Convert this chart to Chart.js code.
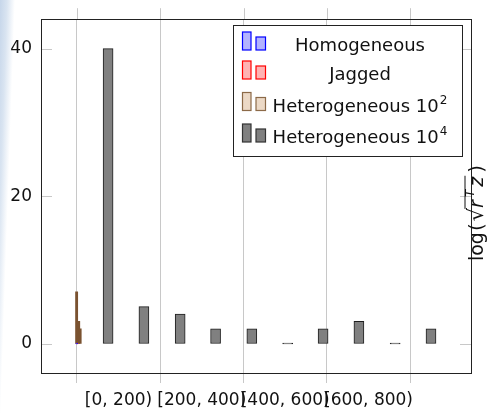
<!DOCTYPE html>
<html>
<head>
<meta charset="utf-8">
<script src="https://cdn.jsdelivr.net/npm/chart.js@4"></script>
<style>
    html, body { margin: 0; padding: 0; }
    body {
        width: 490px; height: 413px; overflow: hidden;
        background: linear-gradient(92deg, #c6d6ea 0px, #d9e4f1 7px, #ffffff 15px);
    }
    canvas { display: block; }
</style>
</head>
<body>
<canvas id="chart" width="490" height="413"></canvas>
<script>
(function () {
    "use strict";

    // Data
    const homX = [0];
    const homY = [0];
    const jagX = [1];
    const jagY = [0];
    const het2X = [-0.5, 4.5, 8];
    const het2Y = [7, 3, 2];
    const het4X = [75, 161, 248, 333, 420, 506, 591, 677, 764, 850];
    const het4Y = [40, 5, 4, 2, 2, 0, 2, 3, 0, 2];

    const seriesNames = ["Homogeneous", "Jagged", "Heterogeneous 10", "Heterogeneous 10"];
    const seriesSup = ["", "", "2", "4"];
    // legend swatches use the light pgfplots fills
    const legendFill = ["#b3b3ff", "#ffb3b3", "#ecd9c6", "#808080"];
    const legendLine = ["#0000ff", "#ff0000", "#8c6a48", "#333333"];

    const gridValues = [0, 200, 400, 600, 800];
    const xLabelValues = [100, 300, 500, 700];
    const xLabels = ["[0, 200)", "[200, 400)", "[400, 600)", "[600, 800)"];
    const yTickValues = [0, 20, 40];

    const gridColor = "#c8c8c8";
    const font = "DejaVu Sans";

    const pts = (xs, ys) => xs.map((x, i) => ({ x: x, y: ys[i] }));

    const frame = {
        id: "frame",
        afterDraw(chart) {
            const { ctx, chartArea: a, scales } = chart;
            const x = scales.x, y = scales.y;
            ctx.save();
            ctx.lineWidth = 1;

            // outward ticks on top, inward ticks on both y sides
            ctx.strokeStyle = gridColor;
            ctx.beginPath();
            gridValues.forEach((v) => {
                const px = Math.round(x.getPixelForValue(v)) + 0.5;
                ctx.moveTo(px, a.top - 11);
                ctx.lineTo(px, a.top);
            });
            yTickValues.forEach((v) => {
                const py = Math.round(y.getPixelForValue(v)) + 0.5;
                ctx.moveTo(a.left, py);
                ctx.lineTo(a.left + 11, py);
                ctx.moveTo(a.right - 11, py);
                ctx.lineTo(a.right, py);
            });
            ctx.stroke();

            // axis box
            ctx.strokeStyle = "#222";
            ctx.strokeRect(Math.round(a.left) + 0.5, Math.round(a.top) + 0.5,
                Math.round(a.right - a.left), Math.round(a.bottom - a.top));

            // legend
            const lx = 233.5, ly = 25.5, lw = 229, lh = 131;
            ctx.fillStyle = "#fff";
            ctx.fillRect(lx, ly, lw, lh);
            ctx.strokeStyle = "#222";
            ctx.strokeRect(lx, ly, lw, lh);
            const baselines = [51, 80, 111.5, 143];
            seriesNames.forEach((name, i) => {
                const b = baselines[i] - 1;
                ctx.fillStyle = legendFill[i];
                ctx.strokeStyle = legendLine[i];
                ctx.lineWidth = 1.2;
                ctx.fillRect(242.5, b - 18, 8.5, 18);
                ctx.strokeRect(242.5, b - 18, 8.5, 18);
                ctx.fillRect(256, b - 13, 9.5, 13);
                ctx.strokeRect(256, b - 13, 9.5, 13);

                ctx.fillStyle = "#111";
                ctx.textBaseline = "alphabetic";
                ctx.textAlign = "left";
                ctx.font = "18px '" + font + "'";
                const w1 = ctx.measureText(name).width;
                ctx.font = "12px '" + font + "'";
                const w2 = seriesSup[i] ? ctx.measureText(seriesSup[i]).width + 1 : 0;
                const sx = 360 - (w1 + w2) / 2;
                ctx.font = "18px '" + font + "'";
                ctx.fillText(name, sx, baselines[i]);
                if (seriesSup[i]) {
                    ctx.font = "12px '" + font + "'";
                    ctx.fillText(seriesSup[i], sx + w1 + 1, baselines[i] - 8);
                }
            });

            // y-axis title on the right, reading upwards
            ctx.translate(483, 213);
            ctx.rotate(-Math.PI / 2);
            ctx.fillStyle = "#111";
            ctx.strokeStyle = "#111";
            ctx.textBaseline = "alphabetic";
            const parts = [
                ["log", "19px '" + font + "'", 0, 1],
                ["(", "20px '" + font + "'", 0, 2],
                ["\u221A", "21px '" + font + "'", 0, 0],
                ["r", "italic 19px '" + font + "'", 0, 3],
                ["T", "italic 12px '" + font + "'", -9, 3],
                ["z", "italic 19px '" + font + "'", 0, 4],
                [")", "20px '" + font + "'", 0, 0],
            ];
            let total = 0;
            const widths = parts.map((p) => {
                ctx.font = p[1];
                const w = ctx.measureText(p[0]).width + p[3];
                total += w;
                return w;
            });
            let cx = -total / 2;
            let olStart = 0, olEnd = 0;
            parts.forEach((p, i) => {
                ctx.font = p[1];
                if (i === 3) olStart = cx - 1;
                ctx.fillText(p[0], cx, p[2]);
                cx += widths[i];
                if (i === 5) olEnd = cx - 3;
            });
            ctx.lineWidth = 1;
            ctx.beginPath();
            ctx.moveTo(olStart, -18);
            ctx.lineTo(olEnd, -18);
            ctx.stroke();

            ctx.restore();
        },
    };

    new Chart(document.getElementById("chart"), {
        type: "bar",
        data: {
            datasets: [
                {
                    label: "Homogeneous",
                    data: pts(homX, homY),
                    backgroundColor: "#b3b3ff",
                    borderColor: "#0000ff",
                    borderWidth: 1,
                    barThickness: 2,
                    minBarLength: 1,
                },
                {
                    label: "Jagged",
                    data: pts(jagX, jagY),
                    backgroundColor: "#ffb3b3",
                    borderColor: "#ff0000",
                    borderWidth: 1,
                    barThickness: 2,
                    minBarLength: 1,
                },
                {
                    label: "Heterogeneous 10^2",
                    data: pts(het2X, het2Y),
                    backgroundColor: "#7a5230",
                    borderColor: "#7a5230",
                    borderWidth: 0,
                    barThickness: 2.2,
                },
                {
                    label: "Heterogeneous 10^4",
                    data: pts(het4X, het4Y),
                    backgroundColor: "#808080",
                    borderColor: "#1e1e1e",
                    borderWidth: 1,
                    barThickness: 10,
                    minBarLength: 1,
                },
            ],
        },
        options: {
            responsive: false,
            animation: false,
            devicePixelRatio: 1,
            grouped: false,
            borderSkipped: false,
            layout: {
                padding: { top: 18, right: 19, left: 0, bottom: 0 },
            },
            plugins: {
                legend: { display: false },
                tooltip: { enabled: false },
            },
            scales: {
                x: {
                    type: "linear",
                    min: -86,
                    max: 946,
                    offset: false,
                    afterBuildTicks: (s) => {
                        s.ticks = gridValues.concat(xLabelValues)
                            .sort((p, q) => p - q)
                            .map((v) => ({ value: v }));
                    },
                    afterFit: (s) => { s.height = 40; },
                    ticks: {
                        autoSkip: false,
                        maxRotation: 0,
                        padding: 7,
                        color: "#111",
                        font: { family: font, size: 17 },
                        callback: (v) => {
                            const i = xLabelValues.indexOf(v);
                            return i >= 0 ? xLabels[i] : "";
                        },
                    },
                    grid: {
                        offset: false,
                        color: (c) => (gridValues.includes(c.tick && c.tick.value) ? gridColor : "rgba(0,0,0,0)"),
                        tickLength: 10,
                    },
                    border: { display: false },
                },
                y: {
                    min: -4,
                    max: 44,
                    afterBuildTicks: (s) => {
                        s.ticks = yTickValues.map((v) => ({ value: v }));
                    },
                    afterFit: (s) => { s.width = 41; },
                    ticks: {
                        padding: 9,
                        color: "#111",
                        font: { family: font, size: 17 },
                    },
                    grid: { display: false, drawTicks: false },
                    border: { display: false },
                },
            },
        },
        plugins: [frame],
    });
})();
</script>
</body>
</html>
